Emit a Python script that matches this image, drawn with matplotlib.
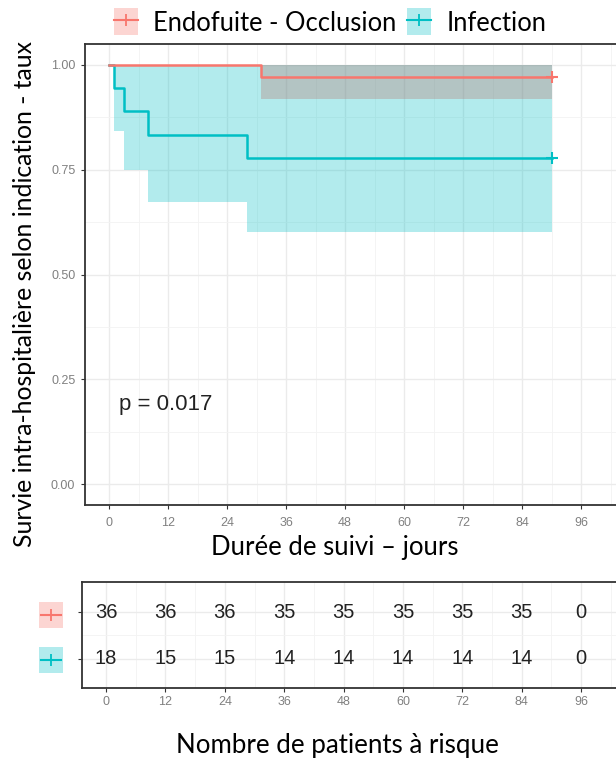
import matplotlib
matplotlib.use("Agg")
import matplotlib.pyplot as plt
from matplotlib.patches import Patch, Rectangle
from matplotlib.lines import Line2D
from matplotlib.legend_handler import HandlerTuple
import numpy as np

# courbes de survie (Kaplan-Meier) par indication
groups = ['Endofuite - Occlusion', 'Infection']
colors = ['#F8766D', '#00BFC4']

endo_t = [0, 31, 90]
endo_s = [1.0, 0.972, 0.972]
endo_lo = [1.0, 0.918, 0.918]
endo_hi = [1.0, 1.0, 1.0]

inf_t = [0, 1, 3, 8, 28, 90]
inf_s = [1.0, 0.944, 0.889, 0.833, 0.778, 0.778]
inf_lo = [1.0, 0.843, 0.750, 0.673, 0.602, 0.602]
inf_hi = [1.0, 1.0, 1.0, 1.0, 1.0, 1.0]

# tableau des patients a risque
risk_times = [0, 12, 24, 36, 48, 60, 72, 84, 96]
risk_endo = [36, 36, 36, 35, 35, 35, 35, 35, 0]
risk_inf = [18, 15, 15, 14, 14, 14, 14, 14, 0]

p_text = 'p = 0.017'

W, H = 616, 760
fig = plt.figure(figsize=(W / 100, H / 100), dpi=100)
fig.patch.set_facecolor('white')

txt_font = ['Lato', 'DejaVu Sans']
num_font = ['Liberation Sans', 'DejaVu Sans']
grey_tick = '#808080'
frame_col = '#333333'

def px_axes(l, t, r, b):
    return fig.add_axes([l / W, 1 - b / H, (r - l) / W, (b - t) / H])

def style_axes(ax):
    ax.set_facecolor('white')
    ax.set_xticks(risk_times)
    ax.set_xticks(np.arange(6, 108, 12), minor=True)
    ax.grid(which='major', color='#EBEBEB', linewidth=1.0, zorder=0)
    ax.grid(which='minor', color='#F3F3F3', linewidth=0.6, zorder=0)
    ax.set_axisbelow(True)
    for s in ['left', 'bottom', 'top']:
        ax.spines[s].set_color(frame_col)
        ax.spines[s].set_linewidth(1.3)
    ax.spines['right'].set_visible(False)
    ax.tick_params(which='major', length=3, width=0.8, color=frame_col,
                   labelsize=9, labelcolor=grey_tick, pad=4)
    ax.tick_params(which='minor', length=0)
    for lab in ax.get_xticklabels() + ax.get_yticklabels():
        lab.set_family(num_font)

# ---------------------------------------------------------------
# graphe principal
ax = px_axes(85, 44, 625, 505)
ax.set_xlim(-4.88, 104.9)
ax.set_ylim(-0.05, 1.05)
ax.set_yticks([0, 0.25, 0.5, 0.75, 1.0])
ax.set_yticklabels(['0.00', '0.25', '0.50', '0.75', '1.00'])
ax.set_yticks(np.arange(0.125, 1.0, 0.25), minor=True)
style_axes(ax)
ax.tick_params(axis='x', pad=6)

series = [(endo_t, endo_s, endo_lo, endo_hi), (inf_t, inf_s, inf_lo, inf_hi)]
band_colors = ['#B86A64', colors[1]]
# bandes de confiance (infection d'abord, puis endofuite par-dessus)
for i in [1, 0]:
    t, s, lo, hi = series[i]
    ax.fill_between(t, lo, hi, step='post', color=band_colors[i], alpha=0.3,
                    linewidth=0, zorder=2)
for i in [1, 0]:
    t, s, lo, hi = series[i]
    ax.step(t, s, where='post', color=colors[i], linewidth=1.8, zorder=3)
    ax.plot(t[-1], s[-1], marker='+', color=colors[i], markersize=9,
            markeredgewidth=1.5, zorder=4)

ax.text(2, 0.19, p_text, fontsize=16, family=num_font, color='#222222',
        va='center', ha='left')

# legende en haut
handles = []
for c in colors:
    handles.append((Patch(facecolor=c, alpha=0.3, edgecolor='none'),
                    Line2D([], [], color=c, marker='+', linewidth=1.5,
                           markersize=8, markeredgewidth=1.3)))
fig.legend(handles, groups, handler_map={tuple: HandlerTuple(ndivide=1, pad=0)},
           loc='center', bbox_to_anchor=(330 / W, 1 - 22 / H), ncol=2,
           frameon=False, prop={'family': txt_font, 'size': 18.4},
           handlelength=0.95, handleheight=1.25, handletextpad=0.6,
           columnspacing=0.4, borderpad=0)

fig.text(335 / W, 1 - 547 / H, 'Durée de suivi – jours', family=txt_font,
         fontsize=18.5, ha='center', va='center')
fig.text(25 / W, 1 - 294 / H, 'Survie intra-hospitalière selon indication - taux',
         family=txt_font, fontsize=17.8, rotation=90, ha='center', va='center')

# ---------------------------------------------------------------
# tableau des patients a risque
rx = px_axes(82, 582, 625, 688)
rx.set_xlim(-4.88, 104.9)
rx.set_ylim(-0.62, 1.64)
rx.set_yticks([0, 1])
rx.set_yticklabels(['', ''])
rx.set_yticks([0.5], minor=True)
style_axes(rx)
rx.tick_params(axis='x', pad=3)

for i, row in enumerate([risk_endo, risk_inf]):
    yrow = 1 - i
    for t, n in zip(risk_times, row):
        rx.text(t, yrow, str(n), fontsize=14.5, family=num_font,
                color='#222222', ha='center', va='center')

# cles de couleur a gauche du tableau
for i, c in enumerate(colors):
    yc = [615, 660][i]
    fig.add_artist(Rectangle((39 / W, 1 - (yc + 13) / H), 24 / W, 26 / H,
                             transform=fig.transFigure, facecolor=c,
                             alpha=0.3, edgecolor='none'))
    fig.add_artist(Line2D([41 / W, 61 / W], [1 - yc / H, 1 - yc / H],
                          transform=fig.transFigure, color=c, linewidth=1.5))
    fig.add_artist(Line2D([51 / W], [1 - yc / H], transform=fig.transFigure,
                          color=c, marker='+', markersize=9,
                          markeredgewidth=1.3, linestyle='none'))

fig.text(337 / W, 1 - 745 / H, 'Nombre de patients à risque', family=txt_font,
         fontsize=18.6, ha='center', va='center')

plt.savefig('out.png', dpi=100)
